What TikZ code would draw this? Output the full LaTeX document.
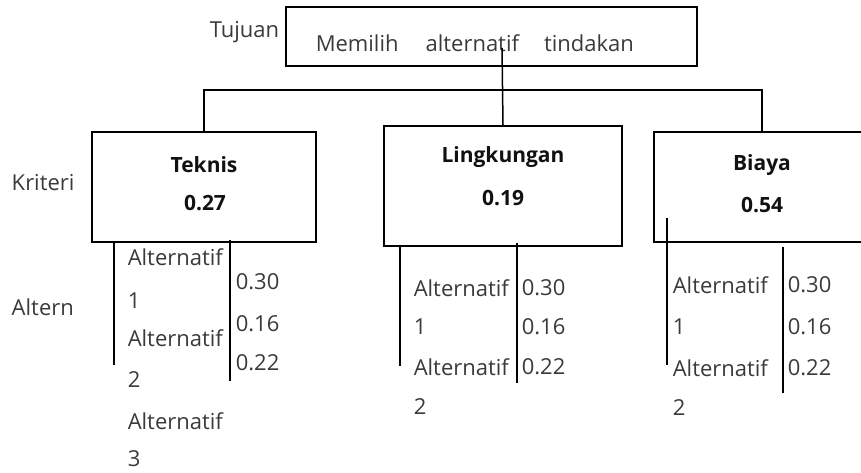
\documentclass[tikz,border=0pt]{standalone}
\usepackage{fontspec}
\setmainfont{Open Sans}
\definecolor{txtgray}{HTML}{3A3A3A}
\definecolor{txtdark}{HTML}{111111}
\tikzset{
  box/.style={draw, line width=1.5pt, inner sep=0pt},
  lbl/.style={inner sep=0pt, anchor=west, text=txtgray, font=\fontsize{22}{26}\selectfont},
  head/.style={inner sep=0pt, text=txtdark, font=\fontsize{21}{25}\selectfont\bfseries}
}
\begin{document}
\begin{tikzpicture}[x=1pt, y=-1pt, line width=1.5pt]
\clip (0,0) rectangle (861,473);

% goal
\node[box, minimum width=411pt, minimum height=59pt] (goal) at (491.5,36.5) {};
\node[lbl] (tujuan) at (209,32) {Tujuan};
\node[lbl] (goaltxt) at (315,43) {Memilih\hspace{27pt}alternatif\hspace{25pt}tindakan};
\coordinate (goalpt) at (502,48);
\coordinate (bar) at (0,90);

% criteria
\node[box, minimum width=224pt, minimum height=110pt] (tek) at (204,187) {};
\node[box, minimum width=238pt, minimum height=120pt] (ling) at (503,186) {};
\node[box, minimum width=216pt, minimum height=110pt] (bia) at (762,187) {};

\node[head] (tekname) at (204,165) {Teknis};
\node[head] (tekw) at (205,203) {0.27};
\node[head] (lingname) at (503,157) {Lingkungan};
\node[head] (lingw) at (503,198) {0.19};
\node[head] (bianame) at (762,165) {Biaya};
\node[head] (biaw) at (762,205) {0.54};

\node[lbl] (kriteri) at (11,183) {Kriteri};
\node[lbl] (altern) at (11,307) {Altern};

\draw (goalpt) -- (ling.north);
\draw (tek.north) -- (tek.north |- bar) -- (bia.north |- bar) -- (bia.north);

% alternatives
\draw (114,242) -- (114,365);
\draw (230,240) -- (230,381);
\foreach \y/\t [count=\i] in {257/Alternatif, 301/1, 338/Alternatif, 380/2, 421/Alternatif, 459/3}
\node[lbl] (teka\i) at (127,\y) {\t};
\foreach \y/\v [count=\i] in {282/0.30, 324/0.16, 363/0.22}
\node[lbl] (tekv\i) at (235,\y) {\v};

\draw (400,246) -- (400,366);
\draw (517,243) -- (517,383);
\foreach \y/\t [count=\i] in {288/Alternatif, 327/1, 367/Alternatif, 407/2}
\node[lbl] (linga\i) at (413,\y) {\t};
\foreach \y/\v [count=\i] in {288/0.30, 327/0.16, 367/0.22}
\node[lbl] (lingv\i) at (521,\y) {\v};

\draw (667,218) -- (667,365);
\draw (783,247) -- (783,393);
\foreach \y/\t [count=\i] in {285/Alternatif, 327/1, 368/Alternatif, 408/2}
\node[lbl] (biaa\i) at (672,\y) {\t};
\foreach \y/\v [count=\i] in {285/0.30, 327/0.16, 368/0.22}
\node[lbl] (biav\i) at (787,\y) {\v};
\end{tikzpicture}
\end{document}
